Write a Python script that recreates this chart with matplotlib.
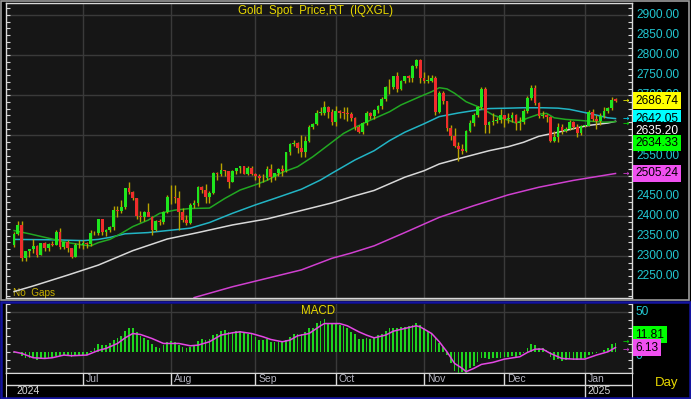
import numpy as np
import pandas as pd
import matplotlib
matplotlib.use("Agg")
import matplotlib.pyplot as plt
import matplotlib.transforms as mtransforms
from matplotlib.patches import Rectangle
from matplotlib.ticker import MultipleLocator

plt.rcParams['font.family'] = ['Liberation Sans', 'DejaVu Sans']

# daily bars, 5 Jun 2024 .. 13 Jan 2025
opens = [2327, 2355, 2376, 2294, 2311, 2316, 2325, 2303, 2333, 2319,
         2329, 2328, 2360, 2322, 2334, 2319, 2298, 2327, 2326, 2331,
         2330, 2356, 2356, 2392, 2359, 2364, 2371, 2415, 2411, 2422,
         2469, 2458, 2445, 2400, 2396, 2409, 2397, 2364, 2387, 2384,
         2410, 2447, 2446, 2443, 2410, 2390, 2382, 2427, 2431, 2472,
         2465, 2447, 2456, 2507, 2503, 2514, 2512, 2484, 2512, 2518,
         2524, 2504, 2520, 2503, 2500, 2493, 2495, 2516, 2497, 2506,
         2516, 2512, 2558, 2578, 2582, 2569, 2559, 2587, 2622, 2628,
         2657, 2657, 2672, 2658, 2634, 2662, 2657, 2656, 2653, 2643,
         2622, 2608, 2631, 2657, 2649, 2663, 2674, 2692, 2721, 2720,
         2748, 2715, 2736, 2747, 2743, 2774, 2788, 2743, 2736, 2736,
         2743, 2659, 2706, 2685, 2618, 2598, 2573, 2565, 2562, 2612,
         2631, 2651, 2670, 2716, 2625, 2633, 2636, 2638, 2650, 2640,
         2643, 2650, 2632, 2633, 2660, 2694, 2718, 2680, 2648, 2652,
         2646, 2587, 2595, 2622, 2612, 2617, 2634, 2621, 2606, 2624,
         2624, 2658, 2640, 2636, 2648, 2662, 2669, 2690]
highs = [2359, 2388, 2387, 2313, 2318, 2342, 2328, 2333, 2334, 2333,
         2336, 2365, 2369, 2335, 2339, 2320, 2331, 2339, 2339, 2335,
         2365, 2362, 2392, 2393, 2368, 2375, 2424, 2425, 2440, 2469,
         2483, 2462, 2445, 2412, 2411, 2431, 2399, 2390, 2393, 2412,
         2451, 2477, 2477, 2461, 2420, 2402, 2432, 2438, 2475, 2475,
         2479, 2462, 2509, 2508, 2531, 2515, 2512, 2513, 2520, 2525,
         2525, 2524, 2524, 2506, 2503, 2503, 2523, 2529, 2507, 2518,
         2526, 2560, 2581, 2589, 2583, 2600, 2598, 2625, 2631, 2664,
         2670, 2685, 2674, 2666, 2673, 2663, 2672, 2671, 2658, 2645,
         2625, 2633, 2661, 2658, 2666, 2675, 2697, 2722, 2740, 2749,
         2758, 2738, 2749, 2750, 2775, 2790, 2790, 2757, 2750, 2750,
         2749, 2710, 2710, 2686, 2626, 2618, 2584, 2578, 2614, 2639,
         2655, 2674, 2721, 2721, 2635, 2657, 2645, 2665, 2651, 2657,
         2658, 2654, 2645, 2667, 2698, 2726, 2726, 2683, 2661, 2653,
         2648, 2611, 2632, 2628, 2620, 2638, 2636, 2628, 2627, 2627,
         2664, 2665, 2650, 2655, 2670, 2671, 2697, 2693]
lows = [2321, 2351, 2287, 2287, 2298, 2306, 2296, 2301, 2311, 2312,
        2325, 2326, 2317, 2318, 2310, 2294, 2298, 2319, 2318, 2319,
        2325, 2351, 2353, 2353, 2350, 2360, 2364, 2397, 2406, 2417,
        2453, 2438, 2392, 2384, 2386, 2399, 2353, 2361, 2376, 2380,
        2406, 2429, 2432, 2364, 2385, 2378, 2380, 2419, 2424, 2456,
        2432, 2431, 2453, 2490, 2498, 2500, 2470, 2483, 2505, 2507,
        2504, 2501, 2501, 2488, 2472, 2484, 2490, 2485, 2490, 2499,
        2500, 2508, 2551, 2574, 2557, 2547, 2546, 2584, 2615, 2626,
        2651, 2651, 2643, 2625, 2624, 2644, 2641, 2637, 2636, 2614,
        2605, 2603, 2625, 2640, 2640, 2657, 2666, 2685, 2704, 2715,
        2708, 2712, 2730, 2733, 2734, 2768, 2730, 2731, 2731, 2733,
        2652, 2655, 2678, 2610, 2589, 2572, 2537, 2555, 2560, 2608,
        2623, 2645, 2667, 2605, 2605, 2627, 2630, 2630, 2622, 2632,
        2633, 2613, 2614, 2629, 2656, 2688, 2675, 2643, 2643, 2633,
        2583, 2583, 2584, 2603, 2608, 2614, 2616, 2597, 2601, 2621,
        2623, 2637, 2615, 2627, 2644, 2656, 2663, 2684]
closes = [2355, 2376, 2294, 2311, 2316, 2325, 2303, 2333, 2319, 2329,
          2328, 2360, 2322, 2334, 2319, 2298, 2327, 2326, 2331, 2330,
          2356, 2356, 2392, 2359, 2364, 2371, 2415, 2411, 2422, 2469,
          2458, 2445, 2400, 2396, 2409, 2397, 2364, 2387, 2384, 2410,
          2447, 2446, 2443, 2410, 2390, 2382, 2427, 2431, 2472, 2465,
          2447, 2456, 2507, 2503, 2514, 2512, 2484, 2512, 2518, 2524,
          2504, 2520, 2503, 2500, 2493, 2495, 2516, 2497, 2506, 2516,
          2512, 2558, 2578, 2582, 2569, 2559, 2587, 2622, 2628, 2657,
          2657, 2672, 2658, 2634, 2662, 2657, 2656, 2653, 2643, 2622,
          2608, 2631, 2657, 2649, 2663, 2674, 2692, 2721, 2720, 2748,
          2715, 2736, 2747, 2743, 2774, 2788, 2743, 2736, 2736, 2743,
          2659, 2706, 2685, 2618, 2598, 2573, 2565, 2562, 2612, 2631,
          2651, 2670, 2716, 2625, 2633, 2636, 2638, 2650, 2640, 2643,
          2650, 2632, 2633, 2660, 2694, 2718, 2680, 2648, 2652, 2646,
          2587, 2595, 2622, 2612, 2617, 2634, 2621, 2606, 2624, 2624,
          2658, 2640, 2636, 2648, 2662, 2669, 2689, 2686.74]

# moving averages, read at a few bars each
ma20_idx = [0, 4, 9, 14, 18, 20, 22, 25, 28, 31, 35, 38, 42, 46, 51, 55, 59, 63, 66, 70,
            74, 78, 82, 86, 89, 93, 98, 101, 106, 109, 111, 113, 115, 118, 122, 125, 129,
            131, 134, 137, 139, 141, 144, 147, 151, 154, 157]
ma20_val = [2363, 2355, 2344, 2333, 2327, 2325, 2333, 2341, 2356, 2373, 2389, 2406, 2414,
            2418, 2419, 2443, 2464, 2477, 2488, 2508, 2522, 2547, 2576, 2605, 2620, 2638,
            2659, 2676, 2697, 2709, 2719, 2716, 2705, 2684, 2668, 2651, 2638, 2631, 2643,
            2653, 2655, 2644, 2640, 2638, 2635, 2633, 2634.33]
ma50_idx = [0, 10, 18, 22, 25, 29, 35, 40, 46, 51, 57, 63, 68, 75, 80, 83, 87, 89, 94, 98,
            102, 107, 111, 116, 120, 124, 129, 133, 138, 142, 145, 148, 151, 155, 157]
ma50_val = [2341, 2340, 2338, 2341, 2346, 2355, 2358, 2363, 2369, 2383, 2406, 2427, 2443,
            2466, 2489, 2506, 2528, 2539, 2562, 2587, 2608, 2629, 2647, 2656, 2662, 2667,
            2668, 2669, 2669, 2668, 2665, 2659, 2653, 2644, 2642.05]
ma100_idx = [0, 5, 14, 22, 31, 40, 48, 57, 66, 75, 83, 88, 94, 102, 107, 111, 116, 120,
             124, 129, 133, 137, 142, 146, 150, 155, 157]
ma100_val = [2211, 2225, 2252, 2277, 2313, 2342, 2358, 2377, 2392, 2413, 2432, 2447, 2463,
             2496, 2512, 2529, 2542, 2552, 2562, 2572, 2583, 2598, 2608, 2617, 2625, 2631,
             2635.20]
ma200_idx = [47, 57, 66, 75, 83, 88, 94, 102, 111, 120, 129, 137, 146, 157]
ma200_val = [2196, 2223, 2244, 2265, 2294, 2307, 2325, 2358, 2396, 2425, 2452, 2471, 2488,
             2505.24]

# MACD bars and signal line
macd = [-1, 1, -4.6, -6.6, -7.5, -6.6, -9.5, -8.3, -7.5, -6.6,
        -5.8, -4.1, -4.6, -3.3, -4.1, -5.8, -4.6, -4.1, -3.3, -3.3,
        1.7, 5, 10, 9.1, 9.1, 11.2, 15.3, 17.4, 20.7, 26.5,
        30.7, 30.7, 24.9, 20.3, 18.2, 15.3, 10, 7, 5.8, 9.1,
        12.4, 14.1, 12.4, 9.1, 7, 5, 7, 9.1, 14.1, 16.2,
        15.3, 16.2, 21.6, 23.6, 27, 27.8, 24.9, 25.7, 26.5, 26.5,
        24.9, 23.6, 22.4, 19.5, 15.3, 15.3, 16.6, 13.3, 13.3, 13.3,
        14.1, 15.3, 19.5, 23.6, 23.6, 23.6, 24.9, 29.9, 30.7, 36.5,
        39.8, 41.5, 37.3, 36, 36, 34.8, 33.2, 30.7, 25.7, 22.4,
        16.6, 16.6, 17.4, 16.6, 18.2, 21.6, 22.4, 26.5, 29.9, 30.7,
        30.7, 31.9, 31.9, 33.2, 34.8, 37.3, 34, 29.9, 26.5, 23.6,
        17.4, 11.2, 7, -3.3, -13.7, -23.2, -26, -24, -26, -19.9,
        -16.6, -11.6, -7.5, -6.6, -8.3, -7.5, -6.6, -6.6, -5.4, -5.4,
        -4.1, -5.4, -3.3, -1.2, 5, 10, 9.1, 5.8, 5, 2.9,
        -5.4, -9.5, -8.3, -10.8, -9.5, -8.3, -9.5, -9.5, -8.3, -6.6,
        -3.3, -2.5, -1.2, 0.8, 2.9, 5, 10, 11.81]
sig_idx = [0, 2, 5, 8, 10, 13, 15, 19, 22, 24, 27, 29, 31, 33, 36, 39, 41, 43, 46, 48,
           51, 54, 57, 59, 62, 65, 67, 70, 72, 74, 77, 80, 81, 85, 87, 90, 92, 94, 97, 99,
           102, 105, 106, 109, 111, 113, 115, 117, 118, 120, 122, 125, 128, 132, 134, 136,
           138, 140, 143, 146, 149, 152, 155, 157]
sig_val = [0.8, -1.2, -6.6, -7.5, -6.6, -3.3, -4.1, -3.3, 2.5, 5, 11.2, 18.2, 23.6, 22.4,
           17.4, 11.2, 11.2, 11.2, 8.3, 9.1, 13.3, 21.6, 24.5, 25.7, 23.6, 19.5, 16.2,
           13.3, 15.3, 20.7, 23.6, 33.2, 36, 36, 33.2, 25.7, 21.6, 18.2, 21.6, 26.5, 29.9,
           33.2, 31.9, 23.6, 13.3, 0.8, -13.7, -19.9, -24, -19.9, -14.9, -12.4, -8.3, -5.4,
           0, 4.1, 4.1, -1.2, -7.5, -8.3, -8.3, -3.3, 0.8, 6.13]

dates = pd.bdate_range('2024-06-05', '2025-01-13')
dates = dates[dates != pd.Timestamp('2024-12-25')]
x = np.arange(len(dates))
o, h, l, c = (np.array(v, dtype=float) for v in (opens, highs, lows, closes))

W, H = 691, 399


def px(x0, y0, x1, y1):
    return [x0 / W, 1 - y1 / H, (x1 - x0) / W, (y1 - y0) / H]


GRID = '#3a3a3a'
AXCOL = '#d8d8d8'
CYAN_TXT = '#22c8d2'
YELLOW = '#e8d800'

fig = plt.figure(figsize=(W / 100, H / 100), dpi=100, facecolor='black')
ax = fig.add_axes(px(6, 3, 632, 298), facecolor='#161616')
axm = fig.add_axes(px(6, 303.5, 632, 372.5), facecolor='#161616')
axd = fig.add_axes(px(6, 373, 632, 398), facecolor='black')

for a in (ax, axm, axd):
    a.set_xlim(-2.1, 161.3)
ax.set_ylim(2195, 2930)
axm.set_ylim(-25, 61)
axd.set_ylim(0, 1)

month_idx = [i for i in range(1, len(dates)) if dates[i].month != dates[i - 1].month]

# grid
for i in month_idx:
    ax.axvline(i, color=GRID, lw=1, zorder=1)
    axm.axvline(i, color=GRID, lw=1, zorder=1)
for p in range(2300, 2901, 100):
    ax.axhline(p, color=GRID, lw=1, zorder=1)
axm.axhline(50, color=GRID, lw=1, zorder=1)

# ticks and spines
ax.yaxis.set_major_locator(MultipleLocator(50 / 3))
axm.yaxis.set_major_locator(MultipleLocator(10))
for a in (ax, axm):
    a.tick_params(axis='y', direction='in', length=3, width=0.8, color=AXCOL,
                  left=True, right=True, labelleft=False, labelright=False)
    a.tick_params(axis='x', bottom=False, labelbottom=False)
    for s in a.spines.values():
        s.set_color(AXCOL)
        s.set_linewidth(1)
axm.spines['top'].set_visible(False)
axd.set_xticks([])
axd.set_yticks([])
axd.spines['bottom'].set_visible(False)
for s in ('top', 'left', 'right'):
    axd.spines[s].set_color(AXCOL)

# candles
up = c >= o
body_lo = np.minimum(o, c)
body_h = np.maximum(np.abs(c - o), 1.2)
ax.vlines(x, l, h, color='#b8a400', lw=1, zorder=3)
ax.bar(x[up], body_h[up], bottom=body_lo[up], width=0.72, color='#1ee61e', lw=0, zorder=4)
ax.bar(x[~up], body_h[~up], bottom=body_lo[~up], width=0.72, color='#f02c2c', lw=0, zorder=4)

# moving averages
ax.plot(ma200_idx, ma200_val, color='#d040d0', lw=1.1, zorder=2)
ax.plot(ma100_idx, ma100_val, color='#d8d8d8', lw=1.1, zorder=2)
ax.plot(ma50_idx, ma50_val, color='#22b4c4', lw=1.1, zorder=2)
ax.plot(ma20_idx, ma20_val, color='#22a822', lw=1.1, zorder=2)

# right price scale (levels hidden behind the value boxes are left out)
tr = mtransforms.blended_transform_factory(ax.transAxes, ax.transData)
lab_x = (636 - 6) / 626
for p in range(2250, 2901, 50):
    if p in (2650, 2600, 2500):
        continue
    ax.text(lab_x, p, f'{p:.2f}', transform=tr, color=CYAN_TXT, fontsize=8.6,
            ha='left', va='center', clip_on=False, zorder=5)

box_x = (635.5 - 6) / 626
last_boxes = [
    (2686.74, '2686.74', '#ffff00', 'black'),
    (2642.05, '2642.05', '#00ffff', 'black'),
    (2642.05 - 30, '2635.20', 'black', 'white'),
    (2642.05 - 60, '2634.33', '#00ff00', 'black'),
    (2505.24, '2505.24', '#f050f0', 'black'),
]
for yv, txt, fc, tc in last_boxes:
    ax.text(box_x, yv, txt, transform=tr, color=tc, fontsize=8.6, ha='left', va='center',
            clip_on=False, zorder=6,
            bbox=dict(boxstyle='square,pad=0.18', fc=fc, ec='none'))

arr_x = (626 - 14) / 3.832
for yv, col in [(2686.74, '#ffff00'), (2642.05 + 2, '#00e0ff'), (2634.33 - 4, '#00e000'),
                (2505.24, '#e040e0')]:
    ax.text(arr_x, yv, '→', color=col, fontsize=5.5, ha='center', va='center',
            family='DejaVu Sans', zorder=6, clip_on=False)

ax.text((316 - 6) / 626, 1 - (11 - 3) / 295, 'Gold  Spot  Price,RT  (IQXGL)',
        transform=ax.transAxes, color=YELLOW, fontsize=8.3, ha='center', va='center')
ax.text((13 - 6) / 626, 1 - (293 - 3) / 295, 'No  Gaps', transform=ax.transAxes,
        color='#c8b000', fontsize=7.2, ha='left', va='center', zorder=1)

# MACD panel
axm.bar(x, macd, width=0.45, color='#1ed41e', lw=0, zorder=3)
axm.plot(sig_idx, sig_val, color='#e448e4', lw=1.1, zorder=4)
axm.text(0.498, 1 - (311 - 303.5) / 69, 'MACD', transform=axm.transAxes, color=YELLOW,
         fontsize=8.3, ha='center', va='center')
trm = mtransforms.blended_transform_factory(axm.transAxes, axm.transData)
axm.text(lab_x, 50, '50', transform=trm, color=CYAN_TXT, fontsize=8.6,
         ha='left', va='center', clip_on=False, zorder=5)
axm.text(lab_x, -4.5, '0', transform=trm, color=CYAN_TXT, fontsize=8.6,
         ha='left', va='center', clip_on=False, zorder=5)
for yv, txt, fc in [(6.13 + 16.2, '11.81', '#00ff00'), (6.13, '6.13', '#f050f0')]:
    axm.text(box_x, yv, txt, transform=trm, color='black', fontsize=8.6, ha='left',
             va='center', clip_on=False, zorder=6,
             bbox=dict(boxstyle='square,pad=0.18', fc=fc, ec='none'))
for yv, col in [(11.81 + 2, '#00e000'), (6.13 - 2, '#e040e0')]:
    axm.text(arr_x, yv, '→', color=col, fontsize=5.5, ha='center', va='center',
             family='DejaVu Sans', zorder=6, clip_on=False)

# date strip
axd.axhline(0.52, color=AXCOL, lw=1)
axd.vlines(month_idx, 0.52, 1, color=AXCOL, lw=1)
for i in month_idx:
    axd.text(i + 0.7, 0.74, dates[i].strftime('%b'), color='#b4b4c0', fontsize=7.5,
             ha='left', va='center')
year_idx = [0] + [i for i in month_idx if dates[i].year != dates[i - 1].year]
for i in year_idx[1:]:
    axd.vlines(i, 0, 0.52, color=AXCOL, lw=1)
for i in year_idx:
    axd.text(i + 0.7, 0.27, str(dates[i].year), color='#d8d8d8', fontsize=7.5,
             ha='left', va='center')

fig.text(667 / W, 1 - 383 / H, 'Day', color=YELLOW, fontsize=9.5, ha='center', va='center')

# panel frames
fig.add_artist(Rectangle((1 / W, 1 - 299.5 / H), 688 / W, 298.5 / H, transform=fig.transFigure,
                         fill=False, ec='#9a9a9a', lw=1.2))
fig.add_artist(Rectangle((1 / W, 1 - 398 / H), 688.5 / W, 96 / H, transform=fig.transFigure,
                         fill=False, ec='#1414a0', lw=1.8))

fig.savefig('out.png', dpi=100, facecolor='black')
